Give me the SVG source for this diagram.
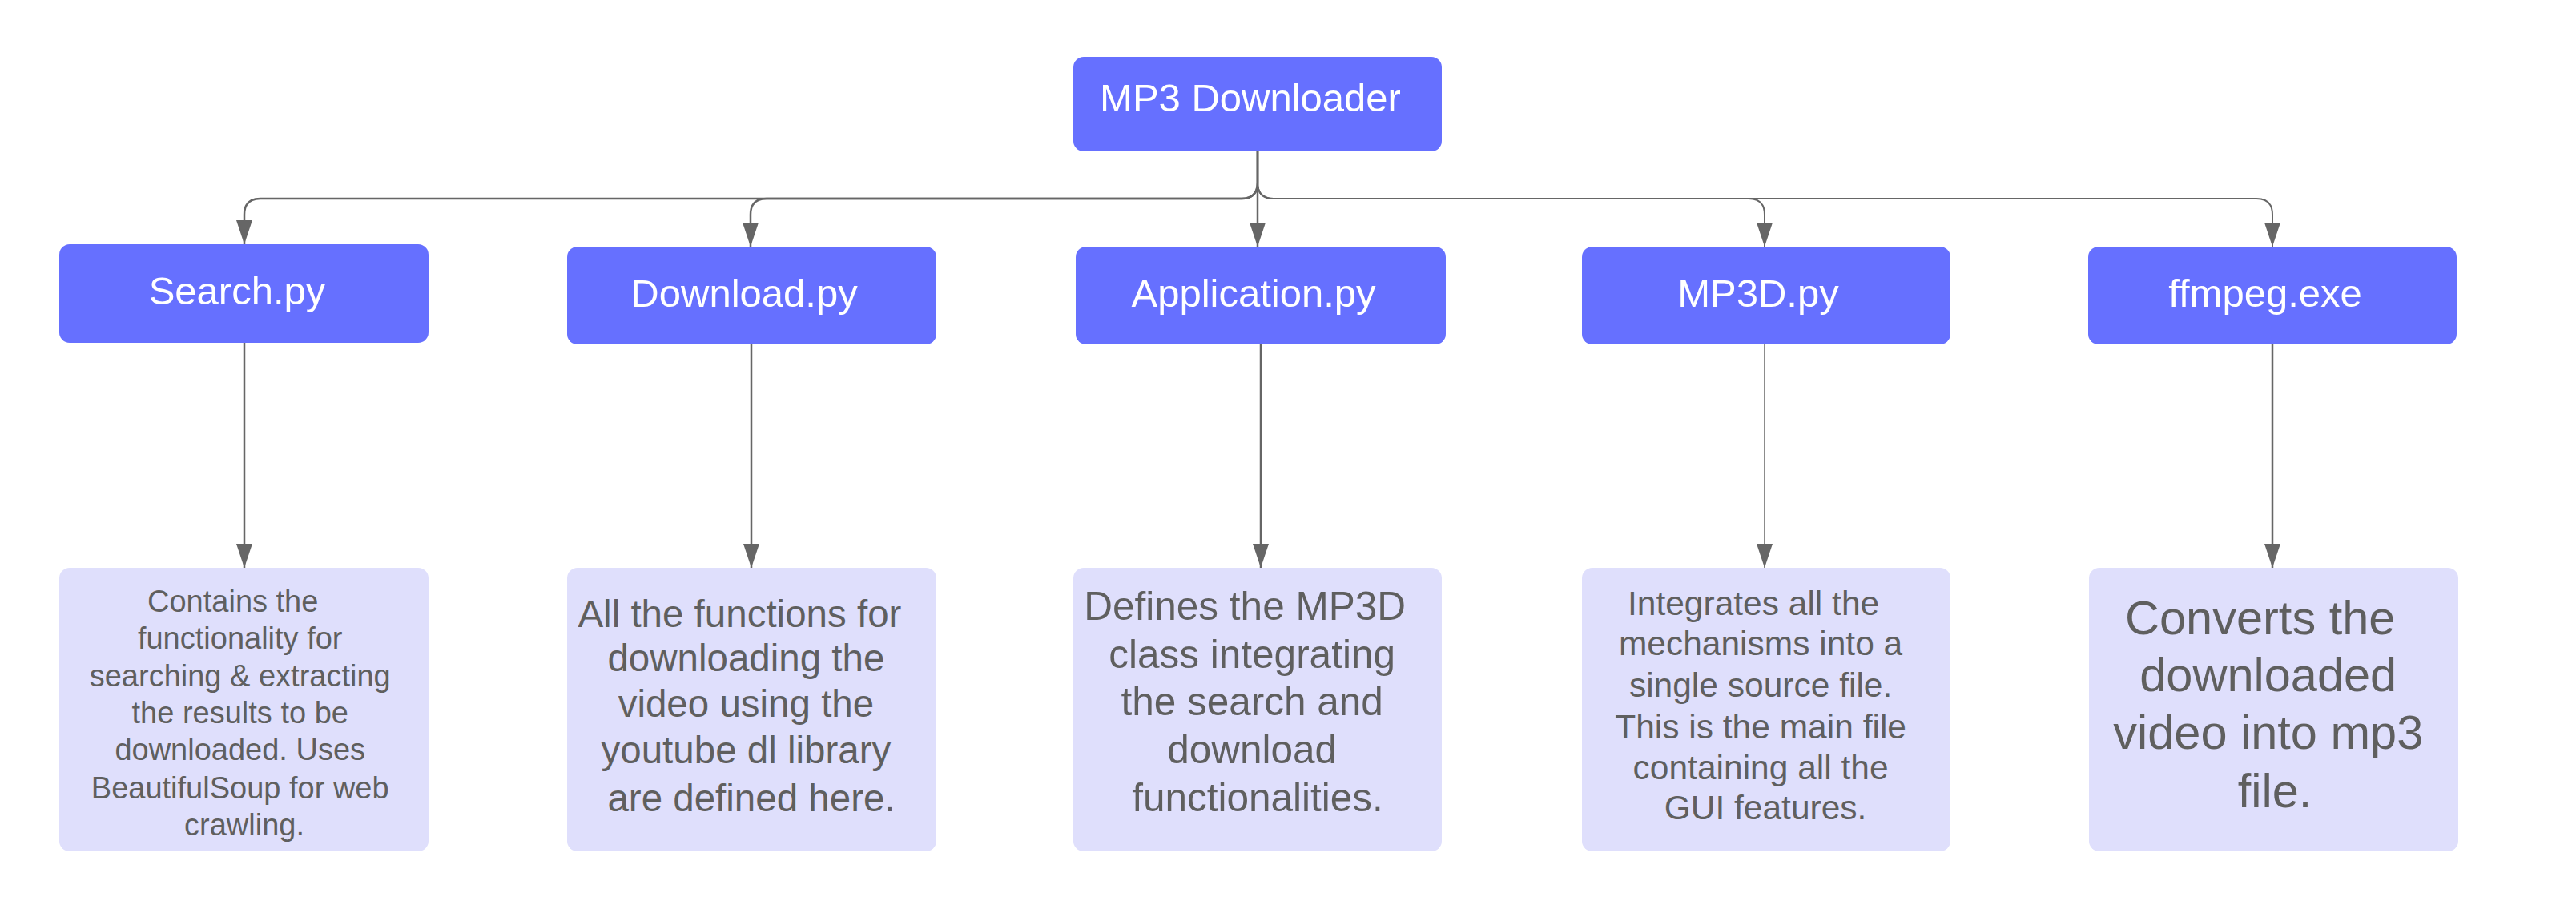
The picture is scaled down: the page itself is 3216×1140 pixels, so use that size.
<svg xmlns="http://www.w3.org/2000/svg" width="3216" height="1140" viewBox="0 0 3216 1140">
<style>
.top{fill:#6670ff}
.bot{fill:#dfdffc}
.lbl{font-family:"Liberation Sans",Arial,sans-serif;font-size:49px;fill:#ffffff;text-anchor:middle}
.desc{font-family:"Liberation Sans",Arial,sans-serif;fill:#5f5f5f;text-anchor:middle}
.conn{fill:none;stroke:#666666;stroke-width:2.5}
</style>
<defs>
<marker id="arr" viewBox="0 0 30 20" refX="30" refY="10" markerWidth="30" markerHeight="20" markerUnits="userSpaceOnUse" orient="auto">
<path d="M0,0 L30,10 L0,20 Z" fill="#666666"/>
</marker>
</defs>
<rect width="3216" height="1140" fill="#ffffff"/>
<g id="connectors">
<path class="conn" d="M1570,189 V228 Q1570,248 1550,248 H325 Q305,248 305,268 V305" marker-end="url(#arr)"/>
<path class="conn" d="M1570,189 V228 Q1570,248 1550,248 H957 Q937,248 937,268 V308" marker-end="url(#arr)"/>
<path class="conn" d="M1570,189 V308" marker-end="url(#arr)"/>
<path class="conn" style="stroke-width:2" d="M1570,189 V228 Q1570,248 1590,248 H2183 Q2203,248 2203,268 V308" marker-end="url(#arr)"/>
<path class="conn" style="stroke-width:2" d="M1570,189 V228 Q1570,248 1590,248 H2817 Q2837,248 2837,268 V308" marker-end="url(#arr)"/>
<path class="conn" d="M305,428 V709" marker-end="url(#arr)"/>
<path class="conn" d="M938,429 V709" marker-end="url(#arr)"/>
<path class="conn" d="M1574,429 V709" marker-end="url(#arr)"/>
<path class="conn" style="stroke-width:1.5" d="M2203,430 V709" marker-end="url(#arr)"/>
<path class="conn" d="M2837,430 V709" marker-end="url(#arr)"/>
</g>
<g id="root">
<rect class="top" x="1340" y="71" width="460" height="118" rx="13"/>
<text class="lbl" x="1561" y="139">MP3 Downloader</text>
</g>
<g id="search">
<rect class="top" x="74" y="305" width="461" height="123" rx="13"/>
<text class="lbl" x="296" y="380">Search.py</text>
</g>
<g id="download">
<rect class="top" x="708" y="308" width="461" height="122" rx="13"/>
<text class="lbl" x="929" y="383">Download.py</text>
</g>
<g id="application">
<rect class="top" x="1343" y="308" width="462" height="122" rx="13"/>
<text class="lbl" x="1565" y="383">Application.py</text>
</g>
<g id="mp3d">
<rect class="top" x="1975" y="308" width="460" height="122" rx="13"/>
<text class="lbl" x="2195" y="383">MP3D.py</text>
</g>
<g id="ffmpeg">
<rect class="top" x="2607" y="308" width="460" height="122" rx="13"/>
<text class="lbl" x="2828" y="383">ffmpeg.exe</text>
</g>
<g id="search-desc">
<rect class="bot" x="74" y="709" width="461" height="354" rx="13"/>
<text class="desc" style="font-size:38px">
<tspan x="296" y="764">Contains the</tspan>
<tspan x="305" y="810">functionality for</tspan>
<tspan x="305" y="857">searching &amp; extracting</tspan>
<tspan x="305" y="903">the results to be</tspan>
<tspan x="305" y="949">downloaded. Uses</tspan>
<tspan x="305" y="997">BeautifulSoup for web</tspan>
<tspan x="305" y="1043">crawling.</tspan>
</text>
</g>
<g id="download-desc">
<rect class="bot" x="708" y="709" width="461" height="354" rx="13"/>
<text class="desc" style="font-size:47.5px">
<tspan x="930" y="783">All the functions for</tspan>
<tspan x="938" y="838">downloading the</tspan>
<tspan x="938" y="895">video using the</tspan>
<tspan x="938" y="953">youtube dl library</tspan>
<tspan x="938" y="1013">are defined here.</tspan>
</text>
</g>
<g id="application-desc">
<rect class="bot" x="1340" y="709" width="460" height="354" rx="13"/>
<text class="desc" style="font-size:49.5px">
<tspan x="1561" y="774">Defines the MP3D</tspan>
<tspan x="1570" y="834">class integrating</tspan>
<tspan x="1570" y="893">the search and</tspan>
<tspan x="1570" y="953">download</tspan>
<tspan x="1570" y="1013">functionalities.</tspan>
</text>
</g>
<g id="mp3d-desc">
<rect class="bot" x="1975" y="709" width="460" height="354" rx="13"/>
<text class="desc" style="font-size:42.5px">
<tspan x="2195" y="768">Integrates all the</tspan>
<tspan x="2204" y="818">mechanisms into a</tspan>
<tspan x="2204" y="870">single source file.</tspan>
<tspan x="2204" y="922">This is the main file</tspan>
<tspan x="2204" y="973">containing all the</tspan>
<tspan x="2204" y="1023">GUI features.</tspan>
</text>
</g>
<g id="ffmpeg-desc">
<rect class="bot" x="2608" y="709" width="461" height="354" rx="13"/>
<text class="desc" style="font-size:59.5px">
<tspan x="2830" y="792">Converts the</tspan>
<tspan x="2840" y="863">downloaded</tspan>
<tspan x="2840" y="935">video into mp3</tspan>
<tspan x="2840" y="1008">file.</tspan>
</text>
</g>
</svg>
